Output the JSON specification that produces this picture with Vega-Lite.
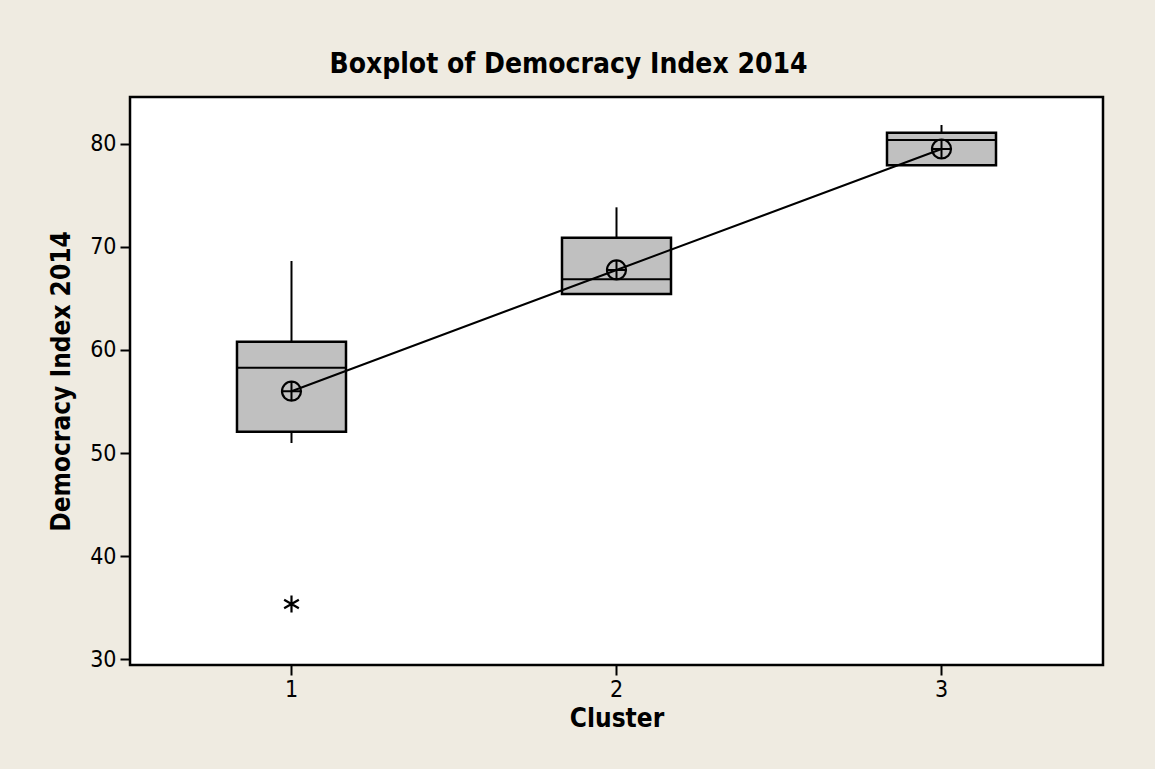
{
  "$schema": "https://vega.github.io/schema/vega-lite/v6.json",
  "width": 973,
  "height": 568,
  "autosize": {"type": "none"},
  "padding": {"left": 130, "top": 97, "right": 52, "bottom": 104},
  "background": "#EFEBE1",
  "title": {
    "text": "Boxplot of Democracy Index 2014",
    "font": "DejaVu Sans Condensed, DejaVu Sans",
    "fontSize": 28,
    "fontWeight": "bold",
    "color": "#000000",
    "anchor": "middle",
    "dx": -48,
    "offset": 18
  },
  "config": {
    "view": {"stroke": "#000000", "strokeWidth": 2.5, "fill": "#FFFFFF"},
    "axis": {
      "domain": false,
      "grid": false,
      "labelFont": "DejaVu Sans Condensed, DejaVu Sans",
      "labelFontSize": 23,
      "labelColor": "#000000",
      "titleFont": "DejaVu Sans Condensed, DejaVu Sans",
      "titleFontSize": 26,
      "titleFontWeight": "bold",
      "titleColor": "#000000",
      "tickColor": "#000000",
      "tickWidth": 2,
      "tickSize": 10
    }
  },
  "datasets": {
    "boxes": [
      {"cluster": "1", "lower": 50.97, "q1": 52.07, "median": 58.28, "q3": 60.8, "upper": 68.64, "mean": 56.0},
      {"cluster": "2", "lower": 65.44, "q1": 65.44, "median": 66.86, "q3": 70.9, "upper": 73.85, "mean": 67.77},
      {"cluster": "3", "lower": 77.93, "q1": 77.93, "median": 80.39, "q3": 81.1, "upper": 81.84, "mean": 79.51}
    ],
    "outliers": [
      {"cluster": "1", "value": 35.34}
    ]
  },
  "layer": [
    {
      "data": {"name": "boxes"},
      "mark": {"type": "rule", "color": "#000000", "strokeWidth": 2},
      "encoding": {
        "x": {"field": "cluster", "type": "nominal", "scale": {"paddingInner": 0.6646, "paddingOuter": 0.3292},
              "axis": {"title": "Cluster", "labelAngle": 0, "labelPadding": 3, "titlePadding": 4}},
        "y": {"field": "q3", "type": "quantitative", "scale": {"domain": [29.42, 84.56], "nice": false, "zero": false},
              "axis": {"title": "Democracy Index 2014", "values": [30, 40, 50, 60, 70, 80], "labelPadding": 4, "titlePadding": 15}},
        "y2": {"field": "upper"}
      }
    },
    {
      "data": {"name": "boxes"},
      "mark": {"type": "rule", "color": "#000000", "strokeWidth": 2},
      "encoding": {
        "x": {"field": "cluster", "type": "nominal"},
        "y": {"field": "lower", "type": "quantitative"},
        "y2": {"field": "q1"}
      }
    },
    {
      "data": {"name": "boxes"},
      "mark": {"type": "bar", "fill": "#C0C0C0", "stroke": "#000000", "strokeWidth": 2.5},
      "encoding": {
        "x": {"field": "cluster", "type": "nominal"},
        "y": {"field": "q1", "type": "quantitative"},
        "y2": {"field": "q3"}
      }
    },
    {
      "data": {"name": "boxes"},
      "mark": {"type": "bar", "fill": "#000000", "stroke": "#000000", "strokeWidth": 2},
      "encoding": {
        "x": {"field": "cluster", "type": "nominal"},
        "y": {"field": "median", "type": "quantitative"},
        "y2": {"field": "median"}
      }
    },
    {
      "data": {"name": "boxes"},
      "mark": {"type": "line", "color": "#000000", "strokeWidth": 2},
      "encoding": {
        "x": {"field": "cluster", "type": "nominal"},
        "y": {"field": "mean", "type": "quantitative"}
      }
    },
    {
      "data": {"name": "boxes"},
      "mark": {"type": "point", "shape": "circle", "filled": false, "stroke": "#000000", "strokeWidth": 2.2, "size": 361, "opacity": 1},
      "encoding": {
        "x": {"field": "cluster", "type": "nominal"},
        "y": {"field": "mean", "type": "quantitative"}
      }
    },
    {
      "data": {"name": "boxes"},
      "mark": {"type": "point", "shape": "M-1,0L1,0M0,-1L0,1", "filled": false, "stroke": "#000000", "strokeWidth": 2, "size": 361, "opacity": 1},
      "encoding": {
        "x": {"field": "cluster", "type": "nominal"},
        "y": {"field": "mean", "type": "quantitative"}
      }
    },
    {
      "data": {"name": "outliers"},
      "mark": {"type": "point", "shape": "M0,-1L0,1M-0.866,-0.5L0.866,0.5M-0.866,0.5L0.866,-0.5", "filled": false, "stroke": "#000000", "strokeWidth": 2.2, "size": 289, "opacity": 1},
      "encoding": {
        "x": {"field": "cluster", "type": "nominal"},
        "y": {"field": "value", "type": "quantitative"}
      }
    }
  ]
}
